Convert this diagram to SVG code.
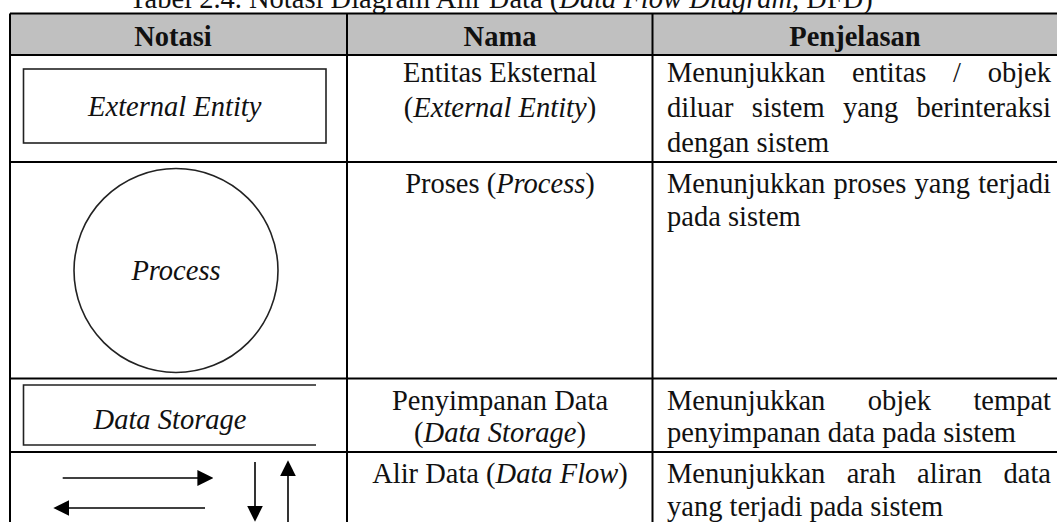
<svg xmlns="http://www.w3.org/2000/svg" width="1057" height="522" viewBox="0 0 1057 522">
<style>
text{font-family:"Liberation Serif","Times New Roman",serif;font-size:28.5px;fill:#111}
.b{font-weight:bold}
.i{font-style:italic}
.m{text-anchor:middle}
.e{text-anchor:end}
.grid{stroke:#000;stroke-width:2;fill:none}
.shape{stroke:#222;stroke-width:1.6;fill:none}
.flow{stroke:#000;stroke-width:1.6;fill:none;marker-end:url(#ah)}
</style>
<defs>
<marker id="ah" markerUnits="userSpaceOnUse" markerWidth="16" markerHeight="16" viewBox="0 0 15 15" refX="5" refY="7.5" orient="auto">
<path d="M0,0 L15,7.5 L0,15 z" fill="#000"/>
</marker>
</defs>
<rect width="1057" height="522" fill="#fff"/>
<g id="title">
<text class="m" x="501" y="8">Tabel 2.4. Notasi Diagram Alir Data (<tspan class="i">Data Flow Diagram,</tspan> DFD)</text>
</g>
<g id="table-grid">
<rect x="10" y="13.5" width="1060" height="41.5" fill="#c0c0c0"/>
<path class="grid" d="M10,13.5H1070M10,55H1070M10,162H1070M10,378.5H1070M10,452H1070M10,13.5V530M347,13.5V530M652.5,13.5V530"/>
</g>
<g id="header">
<text class="b m" x="173" y="46">Notasi</text>
<text class="b m" x="500" y="46">Nama</text>
<text class="b m" x="855" y="46">Penjelasan</text>
</g>
<g id="node-external-entity">
<rect class="shape" x="23.5" y="69" width="302.5" height="74"/>
<text class="i m" x="174.75" y="116">External Entity</text>
<text class="m" x="500" y="82">Entitas Eksternal</text>
<text class="m" x="500" y="117">(<tspan class="i">External Entity</tspan>)</text>
<text x="667" y="82">Menunjukkan</text>
<text x="852" y="82">entitas</text>
<text x="953" y="82">/</text>
<text class="e" x="1051" y="82">objek</text>
<text x="667" y="117">diluar</text>
<text x="751.8" y="117">sistem</text>
<text x="842.9" y="117">yang</text>
<text class="e" x="1051" y="117">berinteraksi</text>
<text x="667" y="152">dengan sistem</text>
</g>
<g id="node-process">
<circle class="shape" cx="176" cy="270.5" r="102"/>
<text class="i m" x="176" y="280">Process</text>
<text class="m" x="500" y="193">Proses (<tspan class="i">Process</tspan>)</text>
<text x="667" y="193">Menunjukkan</text>
<text x="833.5" y="193">proses</text>
<text x="914.5" y="193">yang</text>
<text class="e" x="1051" y="193">terjadi</text>
<text x="667" y="226">pada sistem</text>
</g>
<g id="node-data-storage">
<path class="shape" d="M316,385H23.5V445H316"/>
<text class="i m" x="170" y="429">Data Storage</text>
<text class="m" x="500" y="410">Penyimpanan Data</text>
<text class="m" x="500" y="442">(<tspan class="i">Data Storage</tspan>)</text>
<text x="667" y="410">Menunjukkan</text>
<text x="867.7" y="410">objek</text>
<text class="e" x="1051" y="410">tempat</text>
<text x="667" y="442">penyimpanan data pada sistem</text>
</g>
<g id="node-data-flow">
<text class="m" x="500" y="483">Alir Data (<tspan class="i">Data Flow</tspan>)</text>
<text x="667" y="483">Menunjukkan</text>
<text x="846.7" y="483">arah</text>
<text x="917.1" y="483">aliran</text>
<text class="e" x="1051" y="483">data</text>
<text x="667" y="516">yang terjadi pada sistem</text>
</g>
<g id="connectors">
<line class="flow" x1="62.7" y1="478" x2="202.7" y2="478"/>
<line class="flow" x1="205" y1="508" x2="64" y2="508"/>
<line class="flow" x1="255" y1="462" x2="255" y2="511"/>
<line class="flow" x1="288" y1="525" x2="288" y2="471"/>
</g>
</svg>
